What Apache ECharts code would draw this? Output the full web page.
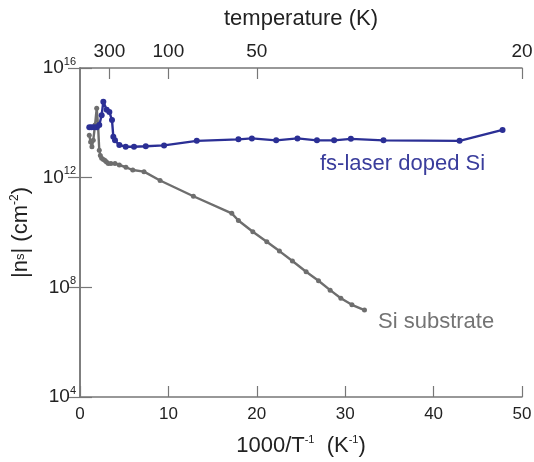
<!DOCTYPE html>
<html>
<head>
<meta charset="utf-8">
<script src="https://cdn.jsdelivr.net/npm/echarts@6/dist/echarts.min.js"></script>
<style>html,body{margin:0;padding:0;background:#fff;}#c{width:534px;height:462px;}</style>
</head>
<body>
<div id="c"></div>
<script>
// 1000/T values (K^-1) and sheet carrier density |ns| (cm^-2)
const laserX = [1.05, 1.3, 1.6, 1.9, 2.18, 2.45, 2.64, 3.02, 3.32, 3.62, 3.77, 3.96, 4.45, 5.17, 6.11, 7.44, 9.51, 13.21, 17.92, 19.44, 22.19, 24.6, 26.8, 28.75, 30.64, 34.33, 42.94, 47.8];
const laserY = [6.9e13, 6.9e13, 6.9e13, 6.9e13, 8.3e13, 1.9e14, 5.9e14, 3.0e14, 2.5e14, 1.26e14, 3.1e13, 2.3e13, 1.55e13, 1.35e13, 1.35e13, 1.4e13, 1.5e13, 2.2e13, 2.5e13, 2.7e13, 2.3e13, 2.7e13, 2.3e13, 2.3e13, 2.6e13, 2.3e13, 2.2e13, 5.5e13];
const substrateX = [1.05, 1.2, 1.35, 1.5, 1.7, 1.89, 2.04, 2.18, 2.3, 2.45, 2.65, 2.83, 3.0, 3.2, 3.5, 3.96, 4.45, 5.2, 5.97, 7.24, 9.06, 12.83, 17.17, 17.92, 19.55, 21.13, 22.56, 24.03, 25.58, 26.98, 28.3, 29.51, 30.76, 32.18];
const substrateY = [3.5e13, 2.0e13, 1.35e13, 2.3e13, 8.3e13, 3.4e14, 8.3e13, 1.0e13, 6.5e12, 5.1e12, 4.6e12, 4.2e12, 3.7e12, 3.3e12, 3.3e12, 3.3e12, 2.9e12, 2.4e12, 1.9e12, 1.66e12, 7.9e11, 2.1e11, 5.0e10, 2.75e10, 1.07e10, 4.6e9, 2.1e9, 9.1e8, 3.7e8, 1.74e8, 7.9e7, 4.0e7, 2.3e7, 1.48e7];
// top axis: temperature (K) labels
const tempTicks = [300, 100, 50, 20];

const laserData = laserX.map((x, i) => [x, laserY[i]]);
const substrateData = substrateX.map((x, i) => [x, substrateY[i]]);

const FONT = 'Liberation Sans';
const axisColor = '#777';
const textColor = '#222';

const chart = echarts.init(document.getElementById('c'), null, {renderer: 'canvas'});
const topVals = tempTicks.map(t => 1000 / t);

chart.setOption({
  animation: false,
  backgroundColor: '#fff',
  grid: {left: 80, right: 12, top: 68, bottom: 65, containLabel: false, outerBoundsMode: 'none'},
  xAxis: [{
    type: 'value', position: 'bottom', min: 0, max: 50, interval: 10,
    axisLine: {show: true, lineStyle: {color: axisColor, width: 1.5}},
    axisTick: {show: true, inside: true, length: 11, lineStyle: {color: axisColor, width: 1.2}},
    axisLabel: {color: textColor, fontFamily: FONT, fontSize: 17, margin: 9},
    splitLine: {show: false},
    name: '{a|1000/T}{s|-1}{a|  (K}{s|-1}{a|)}',
    nameLocation: 'middle', nameGap: 37,
    nameTextStyle: {
      rich: {
        a: {fontFamily: FONT, fontSize: 22, color: textColor, lineHeight: 24},
        s: {fontFamily: FONT, fontSize: 11, color: textColor, verticalAlign: 'top', lineHeight: 24}
      }
    }
  }, {
    type: 'value', position: 'top', min: 0, max: 50,
    axisLine: {show: true, lineStyle: {color: axisColor, width: 1.5}},
    axisTick: {show: true, inside: true, length: 11, customValues: topVals, lineStyle: {color: axisColor, width: 1.2}},
    axisLabel: {color: textColor, fontFamily: FONT, fontSize: 19, margin: 7, customValues: topVals,
      formatter: v => String(Math.round(1000 / v))},
    splitLine: {show: false},
    name: 'temperature (K)', nameLocation: 'middle', nameGap: 38,
    nameTextStyle: {fontFamily: FONT, fontSize: 22, color: textColor}
  }],
  yAxis: [{
    type: 'log', logBase: 10, min: 1e4, max: 1e16, interval: 4,
    axisLine: {show: true, lineStyle: {color: axisColor, width: 1.5}},
    axisTick: {show: true, inside: true, length: 12, lineStyle: {color: axisColor, width: 1.2}},
    minorTick: {show: false},
    splitLine: {show: false},
    axisLabel: {
      margin: 4,
      formatter: v => '{b|10}{s|' + Math.round(Math.log10(v)) + '}',
      rich: {
        b: {fontFamily: FONT, fontSize: 19, color: textColor, lineHeight: 24},
        s: {fontFamily: FONT, fontSize: 11, color: textColor, verticalAlign: 'top', lineHeight: 24}
      }
    },
    name: '{a||n}{sub|s}{a|| (cm}{sup|-2}{a|)}',
    nameLocation: 'middle', nameGap: 41, nameRotate: 90,
    nameTextStyle: {
      rich: {
        a: {fontFamily: FONT, fontSize: 22, color: textColor, lineHeight: 24},
        sub: {fontFamily: FONT, fontSize: 13, color: textColor, verticalAlign: 'middle', lineHeight: 24},
        sup: {fontFamily: FONT, fontSize: 12, color: textColor, verticalAlign: 'top', lineHeight: 24}
      }
    }
  }, {
    type: 'log', logBase: 10, min: 1e4, max: 1e16, interval: 4, position: 'right',
    axisLine: {show: true, lineStyle: {color: axisColor, width: 1.5}},
    axisTick: {show: true, inside: true, length: 12, lineStyle: {color: axisColor, width: 1.2}},
    minorTick: {show: false},
    axisLabel: {show: false},
    splitLine: {show: false}
  }],
  series: [{
    type: 'line', name: 'Si substrate', data: substrateData,
    symbol: 'circle', symbolSize: 5,
    lineStyle: {color: '#6e6e6e', width: 2.4},
    itemStyle: {color: '#6e6e6e'},
    z: 2
  }, {
    type: 'line', name: 'fs-laser doped Si', data: laserData,
    symbol: 'circle', symbolSize: 6,
    lineStyle: {color: '#2b2f95', width: 2.4},
    itemStyle: {color: '#2b2f95'},
    z: 3
  }],
  graphic: [{
    type: 'text', left: 320, top: 153,
    style: {text: 'fs-laser doped Si', fontFamily: FONT, fontSize: 22, fill: '#3a3d9c'}
  }, {
    type: 'text', left: 378, top: 311,
    style: {text: 'Si substrate', fontFamily: FONT, fontSize: 22, fill: '#747474'}
  }]
});
</script>
</body>
</html>
